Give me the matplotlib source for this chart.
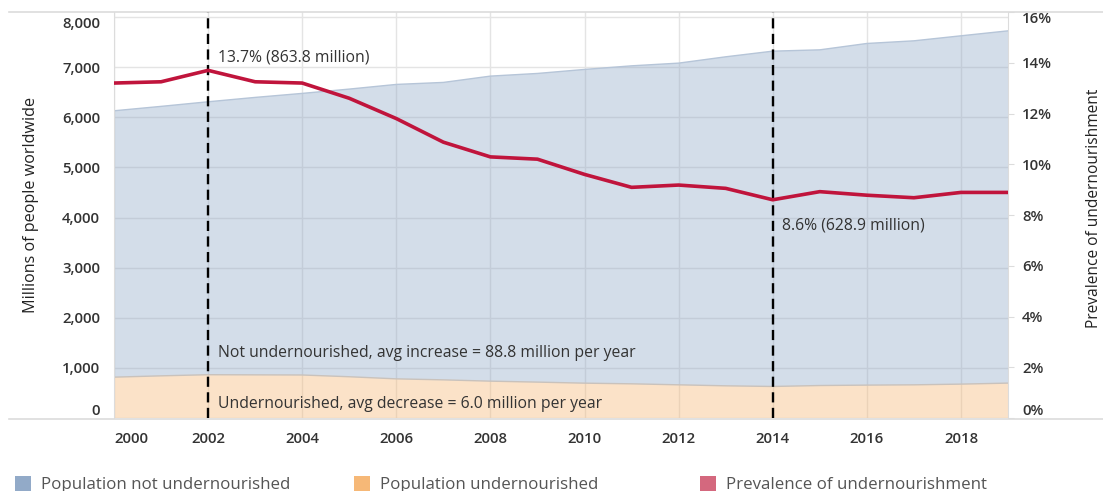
import matplotlib
matplotlib.use("Agg")
import matplotlib.pyplot as plt
from matplotlib.patches import Patch
from matplotlib.lines import Line2D
from matplotlib.ticker import FuncFormatter

plt.rcParams['font.family'] = ['Open Sans', 'DejaVu Sans']

# ---- data ----
years = list(range(2000, 2020))
undernourished = [815, 841, 863.8, 861, 858, 823, 781, 761, 735, 716,
                  695, 682, 662, 642, 628.9, 648, 656, 662, 676, 696]
not_undernourished = [5314, 5376, 5445, 5535, 5618, 5739, 5874, 5934, 6086, 6158,
                      6259, 6344, 6418, 6564, 6690, 6697, 6816, 6863, 6949, 7028]
prevalence = [13.2, 13.25, 13.7, 13.25, 13.2, 12.6, 11.8, 10.87, 10.29, 10.2,
              9.6, 9.09, 9.18, 9.05, 8.6, 8.92, 8.78, 8.68, 8.89, 8.89]
x_ticks = list(range(2000, 2019, 2))
left_ticks = list(range(0, 8001, 1000))
right_ticks = list(range(0, 17, 2))
marked_years = [2002, 2014]
legend_labels = ["Population not undernourished", "Population undernourished",
                 "Prevalence of undernourishment"]

blue = "#92aac8"
orange = "#f6b877"
pink = "#d4687e"
red = "#c0143c"
txt = "#333333"

W, H = 1103, 491
fig = plt.figure(figsize=(W / 100, H / 100), dpi=100)
ax = fig.add_axes([114 / W, 1 - 418 / H, (1008 - 114) / W, (418 - 12) / H])
ax2 = ax.twinx()

ax.set_xlim(2000, 2019)
ax.set_ylim(0, 8100)
ax2.set_ylim(0, 16)

# grid
ax.set_axisbelow(True)
ax.set_yticks(left_ticks)
ax.set_xticks(x_ticks)
ax.grid(True, color="#e4e4e4", lw=1.0)

# stacked areas
ax.stackplot(years, undernourished, not_undernourished,
             colors=[orange, blue], alpha=0.4, lw=0)
tot = [a + b for a, b in zip(undernourished, not_undernourished)]
ax.plot(years, undernourished, color="#c9c2bc", lw=1.0)
ax.plot(years, tot, color="#b6c5d8", lw=1.0)

# dashed marker lines
for yr in marked_years:
    ax.axvline(yr, color="black", lw=1.7, dashes=(4.3, 2.3), zorder=5)

# prevalence line
ax2.plot(years, prevalence, color=red, lw=2.6, solid_joinstyle="round", zorder=6)

# annotations
afs = 11.3
ax.text(2002.2, 7200, "13.7% (863.8 million)", fontsize=afs, color=txt, va="center")
ax.text(2014.2, 3850, "8.6% (628.9 million)", fontsize=afs, color=txt, va="center")
ax.text(2002.2, 1300, "Not undernourished, avg increase = 88.8 million per year",
        fontsize=afs, color=txt, va="center")
ax.text(2002.2, 280, "Undernourished, avg decrease = 6.0 million per year",
        fontsize=afs, color=txt, va="center")

# axes styling
for a in (ax, ax2):
    for s in a.spines.values():
        s.set_visible(False)
ax.spines["left"].set_visible(True)
ax.spines["left"].set_color("#dcdcdc")
ax2.spines["right"].set_visible(True)
ax2.spines["right"].set_color("#dcdcdc")

tfs = 10.8
ax.yaxis.set_major_formatter(FuncFormatter(lambda v, p: f"{int(v):,}"))
ax.tick_params(axis="y", length=0, pad=10, labelsize=tfs, labelcolor=txt)
ax.tick_params(axis="x", length=0, pad=10, labelsize=tfs, labelcolor=txt)
ax2.set_yticks(right_ticks)
ax2.yaxis.set_major_formatter(FuncFormatter(lambda v, p: f"{int(v)}%"))
ax2.tick_params(axis="y", length=4, color="#dcdcdc", pad=6, labelsize=tfs, labelcolor=txt)
for lab in ax.get_xticklabels() + ax.get_yticklabels() + ax2.get_yticklabels():
    lab.set_fontweight("semibold")

xl = ax.get_xticklabels()
xl[0].set_ha("left")
yl = ax.get_yticklabels()
yl[0].set_va("bottom")
yl[-1].set_va("top")
yl2 = ax2.get_yticklabels()
yl2[0].set_va("bottom")
yl2[-1].set_va("top")

ax.set_ylabel("Millions of people worldwide", fontsize=11.6, color="#222222")
ax.yaxis.set_label_coords(-0.084, 0.525)
ax2.set_ylabel("Prevalence of undernourishment", fontsize=11.2, color="#222222")
ax2.yaxis.set_label_coords(1.087, 0.517)

# pane borders
fig.add_artist(Line2D([9 / W, 1], [1 - 12 / H] * 2, color="#dcdcdc", lw=1.2))
fig.add_artist(Line2D([9 / W, 1], [1 - 418.5 / H] * 2, color="#dcdcdc", lw=1.2))

# legends
legend_colors = [blue, orange, pink]
legend_x = [5, 344, 690]
for lab, col, lx in zip(legend_labels, legend_colors, legend_x):
    fig.legend(handles=[Patch(facecolor=col, edgecolor="none")], labels=[lab],
               loc="lower left", bbox_to_anchor=(lx / W, -0.025), frameon=False,
               fontsize=12.2, labelcolor="#555555", handlelength=0.95, handleheight=0.95,
               handletextpad=0.55, borderaxespad=0.2)

fig.savefig("out.png", dpi=100)
